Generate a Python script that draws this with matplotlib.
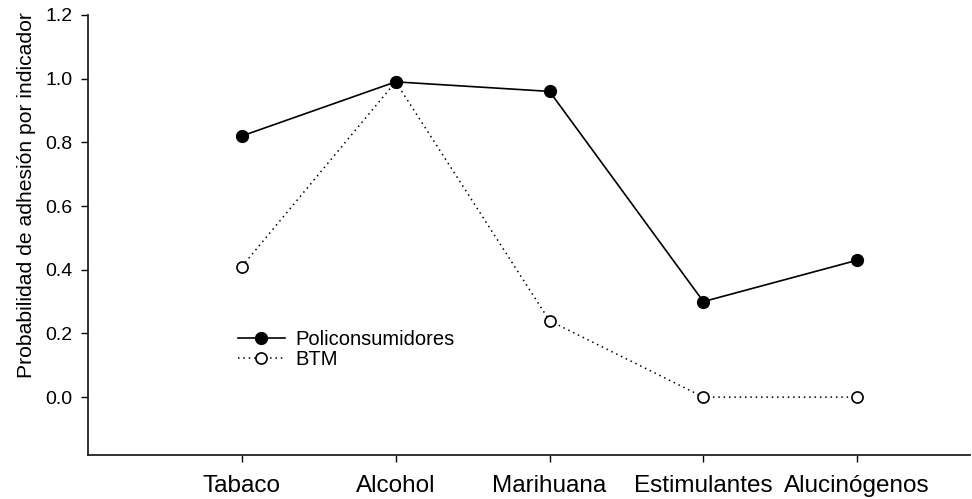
import matplotlib
matplotlib.use('Agg')
import matplotlib.pyplot as plt

plt.rcParams['font.family'] = ['Liberation Sans', 'DejaVu Sans']

# datos
categorias = ['Tabaco', 'Alcohol', 'Marihuana', 'Estimulantes', 'Alucinógenos']
policonsumidores = [0.82, 0.99, 0.96, 0.30, 0.43]
btm = [0.41, 0.99, 0.24, 0.00, 0.00]
y_ticks = [0.0, 0.2, 0.4, 0.6, 0.8, 1.0, 1.2]

x = list(range(1, len(categorias) + 1))

fig = plt.figure(figsize=(9.72, 4.99), dpi=100)
ax = fig.add_axes([0.0905, 0.088, 0.907, 0.882])

ax.plot(x, btm, color='black', linestyle=(0, (1, 2.5)), linewidth=1.1,
        marker='o', markersize=8, markerfacecolor='white',
        markeredgecolor='black', markeredgewidth=1.2, label='BTM', zorder=2)
ax.plot(x, policonsumidores, color='black', linestyle='-', linewidth=1.2,
        marker='o', markersize=8.5, markerfacecolor='black',
        markeredgecolor='black', label='Policonsumidores', zorder=3)

ax.set_xlim(0, 5.73)
ax.set_ylim(-0.182, 1.2)
ax.set_xticks(x)
ax.set_xticklabels(categorias, fontsize=17.5)
ax.set_yticks(y_ticks)
ax.set_yticklabels(['%.1f' % v for v in y_ticks], fontsize=14)
ax.set_ylabel('Probabilidad de adhesión por indicador', fontsize=15.2)
ax.yaxis.set_label_coords(-0.059, 0.59)

for s in ['top', 'right']:
    ax.spines[s].set_visible(False)
for s in ['left', 'bottom']:
    ax.spines[s].set_linewidth(1.3)
    ax.spines[s].set_color('#222222')
ax.tick_params(axis='x', length=5, width=1, direction='out', pad=9)
ax.tick_params(axis='y', length=5, width=1, direction='out', pad=6)

handles, labels = ax.get_legend_handles_labels()
ax.legend(handles[::-1], labels[::-1], loc='upper left',
          bbox_to_anchor=(0.150, 0.326), frameon=False, fontsize=14.5,
          handlelength=2.3, labelspacing=0.05, handletextpad=0.55)

fig.savefig('out.png', dpi=100)
